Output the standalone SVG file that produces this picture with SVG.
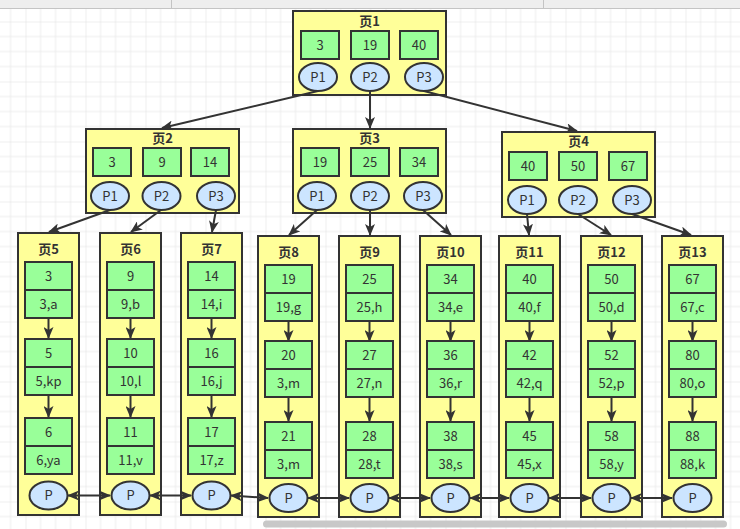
<svg xmlns="http://www.w3.org/2000/svg" width="740" height="529" viewBox="0 0 740 529">
<defs>
<pattern id="grid" patternUnits="userSpaceOnUse" x="25.5" y="21.5" width="60" height="60">
<path d="M15,0V60M30,0V60M45,0V60M0,15H60M0,30H60M0,45H60" stroke="#ececec" stroke-width="1" fill="none"/>
<path d="M0,0V60M0,0H60" stroke="#e0e0e0" stroke-width="1" fill="none"/>
</pattern>
<marker id="ah" viewBox="0 0 12 10" refX="11" refY="5" markerWidth="12" markerHeight="10" markerUnits="userSpaceOnUse" orient="auto-start-reverse">
<path d="M0,0 L12,5 L0,10 L3,5 z" fill="#333"/>
</marker>
</defs>
<style>
.pg{fill:#ffff99;stroke:#333;stroke-width:2}
.c{fill:#99ff99;stroke:#333;stroke-width:2}
.e{fill:#cce5ff;stroke:#333;stroke-width:2}
text{font-family:"Noto Sans CJK SC","Noto Sans",sans-serif;font-size:13px;fill:#333;text-anchor:middle}
.t{font-weight:bold}
.ln{stroke:#333;stroke-width:2;fill:none;marker-end:url(#ah)}
.bl{stroke:#333;stroke-width:2;fill:none;marker-start:url(#ah);marker-end:url(#ah)}
</style>
<rect width="740" height="529" fill="#fff"/>
<rect x="0" y="8" width="740" height="521" fill="url(#grid)"/>
<rect x="0" y="0" width="740" height="8" fill="#eeeeee"/>
<line x1="0" y1="8.5" x2="740" y2="8.5" stroke="#c4c4c4"/>
<line x1="171.5" y1="0" x2="171.5" y2="8" stroke="#c4c4c4"/>
<line x1="543.5" y1="0" x2="543.5" y2="8" stroke="#c4c4c4"/>

<g id="page1">
<rect class="pg" x="293" y="11" width="153" height="84"/>
<text class="t" x="369.5" y="26">页1</text>
<rect class="c" x="301" y="31" width="38" height="28"/><text x="320" y="49.5">3</text>
<rect class="c" x="351" y="31" width="38" height="28"/><text x="370" y="49.5">19</text>
<rect class="c" x="400" y="31" width="38" height="28"/><text x="419" y="49.5">40</text>
<ellipse class="e" cx="318" cy="77" rx="19" ry="14"/><text x="318" y="81.5">P1</text>
<ellipse class="e" cx="370" cy="77" rx="19" ry="14"/><text x="370" y="81.5">P2</text>
<ellipse class="e" cx="424" cy="77" rx="19" ry="14"/><text x="424" y="81.5">P3</text>
</g>

<g id="page2">
<rect class="pg" x="86" y="129" width="153" height="84"/>
<text class="t" x="162.5" y="143">页2</text>
<rect class="c" x="93" y="148" width="38" height="28"/><text x="112" y="166.5">3</text>
<rect class="c" x="143" y="148" width="38" height="28"/><text x="162" y="166.5">9</text>
<rect class="c" x="191" y="148" width="38" height="28"/><text x="210" y="166.5">14</text>
<ellipse class="e" cx="110" cy="196" rx="19" ry="14"/><text x="110" y="200.5">P1</text>
<ellipse class="e" cx="161.5" cy="196" rx="19" ry="14"/><text x="161.5" y="200.5">P2</text>
<ellipse class="e" cx="216" cy="196" rx="19" ry="14"/><text x="216" y="200.5">P3</text>
</g>

<g id="page3">
<rect class="pg" x="293" y="129" width="153" height="84"/>
<text class="t" x="369.5" y="143">页3</text>
<rect class="c" x="301" y="148" width="38" height="28"/><text x="320" y="166.5">19</text>
<rect class="c" x="351" y="148" width="38" height="28"/><text x="370" y="166.5">25</text>
<rect class="c" x="400" y="148" width="38" height="28"/><text x="419" y="166.5">34</text>
<ellipse class="e" cx="317" cy="196" rx="19" ry="14"/><text x="317" y="200.5">P1</text>
<ellipse class="e" cx="370" cy="196" rx="19" ry="14"/><text x="370" y="200.5">P2</text>
<ellipse class="e" cx="423" cy="196" rx="19" ry="14"/><text x="423" y="200.5">P3</text>
</g>

<g id="page4">
<rect class="pg" x="502" y="132" width="153" height="85"/>
<text class="t" x="578.5" y="146">页4</text>
<rect class="c" x="509" y="152" width="38" height="28"/><text x="528" y="170.5">40</text>
<rect class="c" x="559" y="152" width="38" height="28"/><text x="578" y="170.5">50</text>
<rect class="c" x="609" y="152" width="38" height="28"/><text x="628" y="170.5">67</text>
<ellipse class="e" cx="527" cy="200" rx="19" ry="14"/><text x="527" y="204.5">P1</text>
<ellipse class="e" cx="578" cy="200" rx="19" ry="14"/><text x="578" y="204.5">P2</text>
<ellipse class="e" cx="632" cy="200" rx="19" ry="14"/><text x="632" y="204.5">P3</text>
</g>

<g id="page5" transform="translate(18,233)">
<rect class="pg" x="0" y="0" width="61" height="282"/>
<text class="t" x="30.5" y="21">页5</text>
<rect class="c" x="7" y="29" width="47" height="28"/><text x="30.5" y="47.5">3</text>
<rect class="c" x="7" y="57" width="47" height="28"/><text x="30.5" y="75.5">3,a</text>
<line class="ln" x1="30.5" y1="85" x2="30.5" y2="105"/>
<rect class="c" x="7" y="106" width="47" height="28"/><text x="30.5" y="124.5">5</text>
<rect class="c" x="7" y="134" width="47" height="28"/><text x="30.5" y="152.5">5,kp</text>
<line class="ln" x1="30.5" y1="162" x2="30.5" y2="184"/>
<rect class="c" x="7" y="185" width="47" height="28"/><text x="30.5" y="203.5">6</text>
<rect class="c" x="7" y="213" width="47" height="28"/><text x="30.5" y="231.5">6,ya</text>
<ellipse class="e" cx="30.5" cy="262.5" rx="19" ry="14"/><text x="30.5" y="267">P</text>
</g>

<g id="page6" transform="translate(100,233)">
<rect class="pg" x="0" y="0" width="61" height="282"/>
<text class="t" x="30.5" y="21">页6</text>
<rect class="c" x="7" y="29" width="47" height="28"/><text x="30.5" y="47.5">9</text>
<rect class="c" x="7" y="57" width="47" height="28"/><text x="30.5" y="75.5">9,b</text>
<line class="ln" x1="30.5" y1="85" x2="30.5" y2="105"/>
<rect class="c" x="7" y="106" width="47" height="28"/><text x="30.5" y="124.5">10</text>
<rect class="c" x="7" y="134" width="47" height="28"/><text x="30.5" y="152.5">10,l</text>
<line class="ln" x1="30.5" y1="162" x2="30.5" y2="184"/>
<rect class="c" x="7" y="185" width="47" height="28"/><text x="30.5" y="203.5">11</text>
<rect class="c" x="7" y="213" width="47" height="28"/><text x="30.5" y="231.5">11,v</text>
<ellipse class="e" cx="30.5" cy="262.5" rx="19" ry="14"/><text x="30.5" y="267">P</text>
</g>

<g id="page7" transform="translate(181,233)">
<rect class="pg" x="0" y="0" width="61" height="282"/>
<text class="t" x="30.5" y="21">页7</text>
<rect class="c" x="7" y="29" width="47" height="28"/><text x="30.5" y="47.5">14</text>
<rect class="c" x="7" y="57" width="47" height="28"/><text x="30.5" y="75.5">14,i</text>
<line class="ln" x1="30.5" y1="85" x2="30.5" y2="105"/>
<rect class="c" x="7" y="106" width="47" height="28"/><text x="30.5" y="124.5">16</text>
<rect class="c" x="7" y="134" width="47" height="28"/><text x="30.5" y="152.5">16,j</text>
<line class="ln" x1="30.5" y1="162" x2="30.5" y2="184"/>
<rect class="c" x="7" y="185" width="47" height="28"/><text x="30.5" y="203.5">17</text>
<rect class="c" x="7" y="213" width="47" height="28"/><text x="30.5" y="231.5">17,z</text>
<ellipse class="e" cx="30.5" cy="262.5" rx="19" ry="14"/><text x="30.5" y="267">P</text>
</g>

<g id="page8" transform="translate(258,236)">
<rect class="pg" x="0" y="0" width="61" height="281"/>
<text class="t" x="30.5" y="21">页8</text>
<rect class="c" x="7" y="29" width="47" height="28"/><text x="30.5" y="47.5">19</text>
<rect class="c" x="7" y="57" width="47" height="28"/><text x="30.5" y="75.5">19,g</text>
<line class="ln" x1="30.5" y1="85" x2="30.5" y2="105"/>
<rect class="c" x="7" y="105" width="47" height="28"/><text x="30.5" y="123.5">20</text>
<rect class="c" x="7" y="133" width="47" height="28"/><text x="30.5" y="151.5">3,m</text>
<line class="ln" x1="30.5" y1="161" x2="30.5" y2="185"/>
<rect class="c" x="7" y="186" width="47" height="28"/><text x="30.5" y="204.5">21</text>
<rect class="c" x="7" y="214" width="47" height="28"/><text x="30.5" y="232.5">3,m</text>
<ellipse class="e" cx="30.5" cy="262" rx="19" ry="14"/><text x="30.5" y="266.5">P</text>
</g>

<g id="page9" transform="translate(339,236)">
<rect class="pg" x="0" y="0" width="61" height="281"/>
<text class="t" x="30.5" y="21">页9</text>
<rect class="c" x="7" y="29" width="47" height="28"/><text x="30.5" y="47.5">25</text>
<rect class="c" x="7" y="57" width="47" height="28"/><text x="30.5" y="75.5">25,h</text>
<line class="ln" x1="30.5" y1="85" x2="30.5" y2="105"/>
<rect class="c" x="7" y="105" width="47" height="28"/><text x="30.5" y="123.5">27</text>
<rect class="c" x="7" y="133" width="47" height="28"/><text x="30.5" y="151.5">27,n</text>
<line class="ln" x1="30.5" y1="161" x2="30.5" y2="185"/>
<rect class="c" x="7" y="186" width="47" height="28"/><text x="30.5" y="204.5">28</text>
<rect class="c" x="7" y="214" width="47" height="28"/><text x="30.5" y="232.5">28,t</text>
<ellipse class="e" cx="30.5" cy="262" rx="19" ry="14"/><text x="30.5" y="266.5">P</text>
</g>

<g id="page10" transform="translate(420,236)">
<rect class="pg" x="0" y="0" width="61" height="281"/>
<text class="t" x="30.5" y="21">页10</text>
<rect class="c" x="7" y="29" width="47" height="28"/><text x="30.5" y="47.5">34</text>
<rect class="c" x="7" y="57" width="47" height="28"/><text x="30.5" y="75.5">34,e</text>
<line class="ln" x1="30.5" y1="85" x2="30.5" y2="105"/>
<rect class="c" x="7" y="105" width="47" height="28"/><text x="30.5" y="123.5">36</text>
<rect class="c" x="7" y="133" width="47" height="28"/><text x="30.5" y="151.5">36,r</text>
<line class="ln" x1="30.5" y1="161" x2="30.5" y2="185"/>
<rect class="c" x="7" y="186" width="47" height="28"/><text x="30.5" y="204.5">38</text>
<rect class="c" x="7" y="214" width="47" height="28"/><text x="30.5" y="232.5">38,s</text>
<ellipse class="e" cx="30.5" cy="262" rx="19" ry="14"/><text x="30.5" y="266.5">P</text>
</g>

<g id="page11" transform="translate(499,236)">
<rect class="pg" x="0" y="0" width="61" height="281"/>
<text class="t" x="30.5" y="21">页11</text>
<rect class="c" x="7" y="29" width="47" height="28"/><text x="30.5" y="47.5">40</text>
<rect class="c" x="7" y="57" width="47" height="28"/><text x="30.5" y="75.5">40,f</text>
<line class="ln" x1="30.5" y1="85" x2="30.5" y2="105"/>
<rect class="c" x="7" y="105" width="47" height="28"/><text x="30.5" y="123.5">42</text>
<rect class="c" x="7" y="133" width="47" height="28"/><text x="30.5" y="151.5">42,q</text>
<line class="ln" x1="30.5" y1="161" x2="30.5" y2="185"/>
<rect class="c" x="7" y="186" width="47" height="28"/><text x="30.5" y="204.5">45</text>
<rect class="c" x="7" y="214" width="47" height="28"/><text x="30.5" y="232.5">45,x</text>
<ellipse class="e" cx="30.5" cy="262" rx="19" ry="14"/><text x="30.5" y="266.5">P</text>
</g>

<g id="page12" transform="translate(581,236)">
<rect class="pg" x="0" y="0" width="61" height="281"/>
<text class="t" x="30.5" y="21">页12</text>
<rect class="c" x="7" y="29" width="47" height="28"/><text x="30.5" y="47.5">50</text>
<rect class="c" x="7" y="57" width="47" height="28"/><text x="30.5" y="75.5">50,d</text>
<line class="ln" x1="30.5" y1="85" x2="30.5" y2="105"/>
<rect class="c" x="7" y="105" width="47" height="28"/><text x="30.5" y="123.5">52</text>
<rect class="c" x="7" y="133" width="47" height="28"/><text x="30.5" y="151.5">52,p</text>
<line class="ln" x1="30.5" y1="161" x2="30.5" y2="185"/>
<rect class="c" x="7" y="186" width="47" height="28"/><text x="30.5" y="204.5">58</text>
<rect class="c" x="7" y="214" width="47" height="28"/><text x="30.5" y="232.5">58,y</text>
<ellipse class="e" cx="30.5" cy="262" rx="19" ry="14"/><text x="30.5" y="266.5">P</text>
</g>

<g id="page13" transform="translate(662,236)">
<rect class="pg" x="0" y="0" width="61" height="281"/>
<text class="t" x="30.5" y="21">页13</text>
<rect class="c" x="7" y="29" width="47" height="28"/><text x="30.5" y="47.5">67</text>
<rect class="c" x="7" y="57" width="47" height="28"/><text x="30.5" y="75.5">67,c</text>
<line class="ln" x1="30.5" y1="85" x2="30.5" y2="105"/>
<rect class="c" x="7" y="105" width="47" height="28"/><text x="30.5" y="123.5">80</text>
<rect class="c" x="7" y="133" width="47" height="28"/><text x="30.5" y="151.5">80,o</text>
<line class="ln" x1="30.5" y1="161" x2="30.5" y2="185"/>
<rect class="c" x="7" y="186" width="47" height="28"/><text x="30.5" y="204.5">88</text>
<rect class="c" x="7" y="214" width="47" height="28"/><text x="30.5" y="232.5">88,k</text>
<ellipse class="e" cx="30.5" cy="262" rx="19" ry="14"/><text x="30.5" y="266.5">P</text>
</g>

<g id="connectors">
<line class="ln" x1="318" y1="91" x2="162" y2="128"/>
<line class="ln" x1="370" y1="91" x2="370" y2="128"/>
<line class="ln" x1="424" y1="91" x2="577" y2="131"/>
<line class="ln" x1="110" y1="210" x2="49" y2="232"/>
<line class="ln" x1="161" y1="210" x2="131" y2="232"/>
<line class="ln" x1="216" y1="210" x2="212" y2="232"/>
<line class="ln" x1="317" y1="210" x2="289" y2="235"/>
<line class="ln" x1="370" y1="210" x2="370" y2="235"/>
<line class="ln" x1="423" y1="210" x2="451" y2="235"/>
<line class="ln" x1="527" y1="214" x2="529" y2="235"/>
<line class="ln" x1="578" y1="214" x2="611" y2="235"/>
<line class="ln" x1="632" y1="214" x2="691" y2="235"/>
<line class="bl" x1="68" y1="495.5" x2="110" y2="495.5"/>
<line class="bl" x1="150" y1="495.5" x2="191" y2="495.5"/>
<line class="bl" x1="231" y1="495.5" x2="268" y2="498"/>
<line class="bl" x1="308" y1="498" x2="349" y2="498"/>
<line class="bl" x1="389" y1="498" x2="430" y2="498"/>
<line class="bl" x1="470" y1="498" x2="509" y2="498"/>
<line class="bl" x1="549" y1="498" x2="591" y2="498"/>
<line class="bl" x1="631" y1="498" x2="672" y2="498"/>
</g>

<rect x="263" y="520.5" width="464" height="7" rx="3.5" fill="#c8c8c8"/>
</svg>
